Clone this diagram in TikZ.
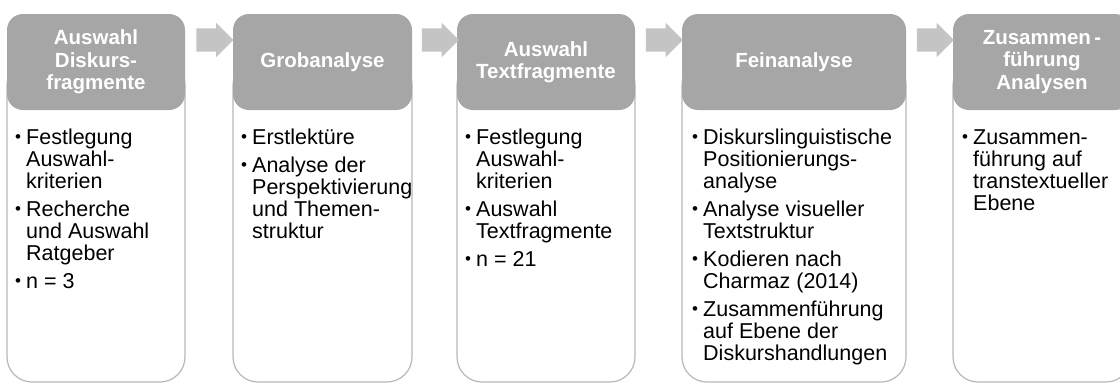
\documentclass[tikz,border=0pt]{standalone}
\usepackage{fontspec}
\setmainfont{Liberation Sans}
\usetikzlibrary{shapes.arrows,calc}
\definecolor{headgray}{HTML}{A6A6A6}
\definecolor{arrowgray}{HTML}{C4C4C4}
\definecolor{linegray}{HTML}{B8B8B8}
\newcommand\bul{\makebox[11pt][l]{\raisebox{1.2pt}{\fontsize{17}{17}\selectfont\textbullet}}}
\newcommand\ind{\hspace*{11pt}}
\tikzset{
  headbox/.style={fill=headgray, rounded corners=16pt, minimum height=96pt, inner sep=0pt,
    text=white, align=center, font=\fontsize{20.5}{22.5}\selectfont\bfseries},
  bodybox/.style={draw=linegray, line width=1.2pt, rounded corners=25pt, inner sep=0pt,
    minimum height=322pt, fill=white},
  bodytext/.style={anchor=base west, inner sep=0pt, text=black},
  flowarrow/.style={single arrow, fill=arrowgray, draw=none, inner xsep=0pt, inner ysep=11.5pt,
    minimum height=37pt, single arrow head extend=5.5pt, single arrow tip angle=90, anchor=center}
}
\newcommand\btext[1]{\parbox[t]{220pt}{\fontsize{21.5}{22}\selectfont\raggedright #1}}
\begin{document}
\begin{tikzpicture}[x=1pt,y=-1pt]
\useasboundingbox (0,0) rectangle (1120,383);
\clip (0,0) rectangle (1120,383);
% bodies
\node[bodybox, minimum width=178pt] (b1) at (96,221) {};
\node[bodybox, minimum width=179pt] (b2) at (322.5,221) {};
\node[bodybox, minimum width=178pt] (b3) at (546,221) {};
\node[bodybox, minimum width=224pt] (b4) at (794,221) {};
\node[bodybox, minimum width=178pt] (b5) at (1042,221) {};
% headers
\node[headbox, minimum width=178pt] (h1) at (96,62) {Auswahl\\Diskurs-\\fragmente};
\node[headbox, minimum width=179pt] (h2) at (322.5,62) {Grobanalyse};
\node[headbox, minimum width=178pt] (h3) at (546,62) {Auswahl\\Textfragmente};
\node[headbox, minimum width=224pt] (h4) at (794,62) {Feinanalyse};
\node[headbox, minimum width=178pt] (h5) at (1042,62) {Zusammen\,-\\führung\\Analysen};
% arrows
\node[flowarrow] (a1) at ($(h1.east)!0.5!(h2.west)+(0,-22)$) {};
\node[flowarrow] (a2) at ($(h2.east)!0.5!(h3.west)+(0,-22)$) {};
\node[flowarrow] (a3) at ($(h3.east)!0.5!(h4.west)+(0,-22)$) {};
\node[flowarrow] (a4) at ($(h4.east)!0.5!(h5.west)+(0,-22)$) {};
% body texts
\node[bodytext] (t1) at (15,144) {\btext{\bul Festlegung\\ \ind Auswahl-\\ \ind kriterien\\[6pt]
  \bul Recherche\\ \ind und Auswahl\\ \ind Ratgeber\\[6pt] \bul n = 3}};
\node[bodytext] (t2) at (241,144) {\btext{\bul Erstlektüre\\[6pt]
  \bul Analyse der\\ \ind Perspektivierung\\ \ind und Themen-\\ \ind struktur}};
\node[bodytext] (t3) at (465,144) {\btext{\bul Festlegung\\ \ind Auswahl-\\ \ind kriterien\\[6pt]
  \bul Auswahl\\ \ind Textfragmente\\[6pt] \bul n = 21}};
\node[bodytext] (t4) at (692,144) {\btext{\bul Diskurslinguistische\\ \ind Positionierungs-\\ \ind analyse\\[6pt]
  \bul Analyse visueller\\ \ind Textstruktur\\[6pt]
  \bul Kodieren nach\\ \ind Charmaz (2014)\\[6pt]
  \bul Zusammenführung\\ \ind auf Ebene der\\ \ind Diskurshandlungen}};
\node[bodytext] (t5) at (962,144) {\btext{\bul Zusammen-\\ \ind führung auf\\ \ind transtextueller\\ \ind Ebene}};
\end{tikzpicture}
\end{document}
